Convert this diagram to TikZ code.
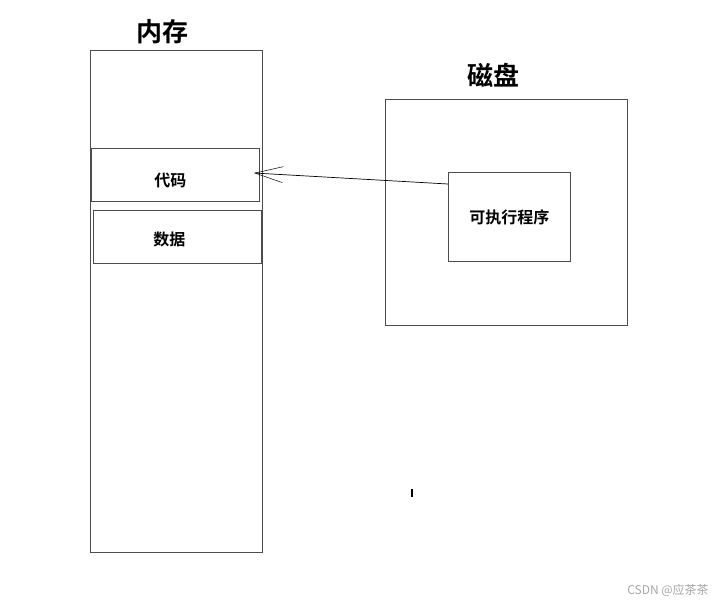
\documentclass[tikz,border=0pt]{standalone}
\usepackage{fontspec}
\newfontfamily\cjk{Noto Sans CJK SC}[BoldFont={* Bold}]
\usetikzlibrary{arrows.meta}
\begin{document}
\begin{tikzpicture}[x=1pt,y=-1pt,
  box/.style={draw=black!70,line width=0.8pt,inner sep=0pt,anchor=north west},
  title/.style={font=\cjk\bfseries\fontsize{26}{26}\selectfont},
  lbl/.style={font=\cjk\bfseries\fontsize{16}{16}\selectfont}]
\useasboundingbox (0,0) rectangle (722,603);
\node[box,minimum width=172pt,minimum height=502pt] (mem) at (90,50) {};
\node[title] (memt) at (162,32) {内存};
\node[box,minimum width=168pt,minimum height=53pt] (code) at (91,148) {};
\node[lbl] at ([xshift=-5pt,yshift=-6pt]code.center) {代码};
\node[box,minimum width=168pt,minimum height=53pt] (data) at (93,210) {};
\node[lbl] at ([xshift=-8pt,yshift=-3pt]data.center) {数据};
\node[box,minimum width=242pt,minimum height=226pt] (disk) at (385,99) {};
\node[title] (diskt) at (493,75) {磁盘};
\node[box,minimum width=122pt,minimum height=89pt] (exe) at (448,172) {};
\node[lbl] at (exe.center) {可执行程序};
\coordinate (a1) at (448,184);
\coordinate (a2) at (254,173);
\draw[line width=0.7pt,-{Straight Barb[length=28pt,width=16pt,line width=0.5pt]}] (a1) -- (a2);
\draw[line width=1.5pt] (412,489) -- (412,497);
\node[font=\fontspec{Noto Sans CJK SC}\fontsize{12}{12}\selectfont,text=black!35] (wm) at (668,590) {CSDN @应茶茶};
\end{tikzpicture}
\end{document}
